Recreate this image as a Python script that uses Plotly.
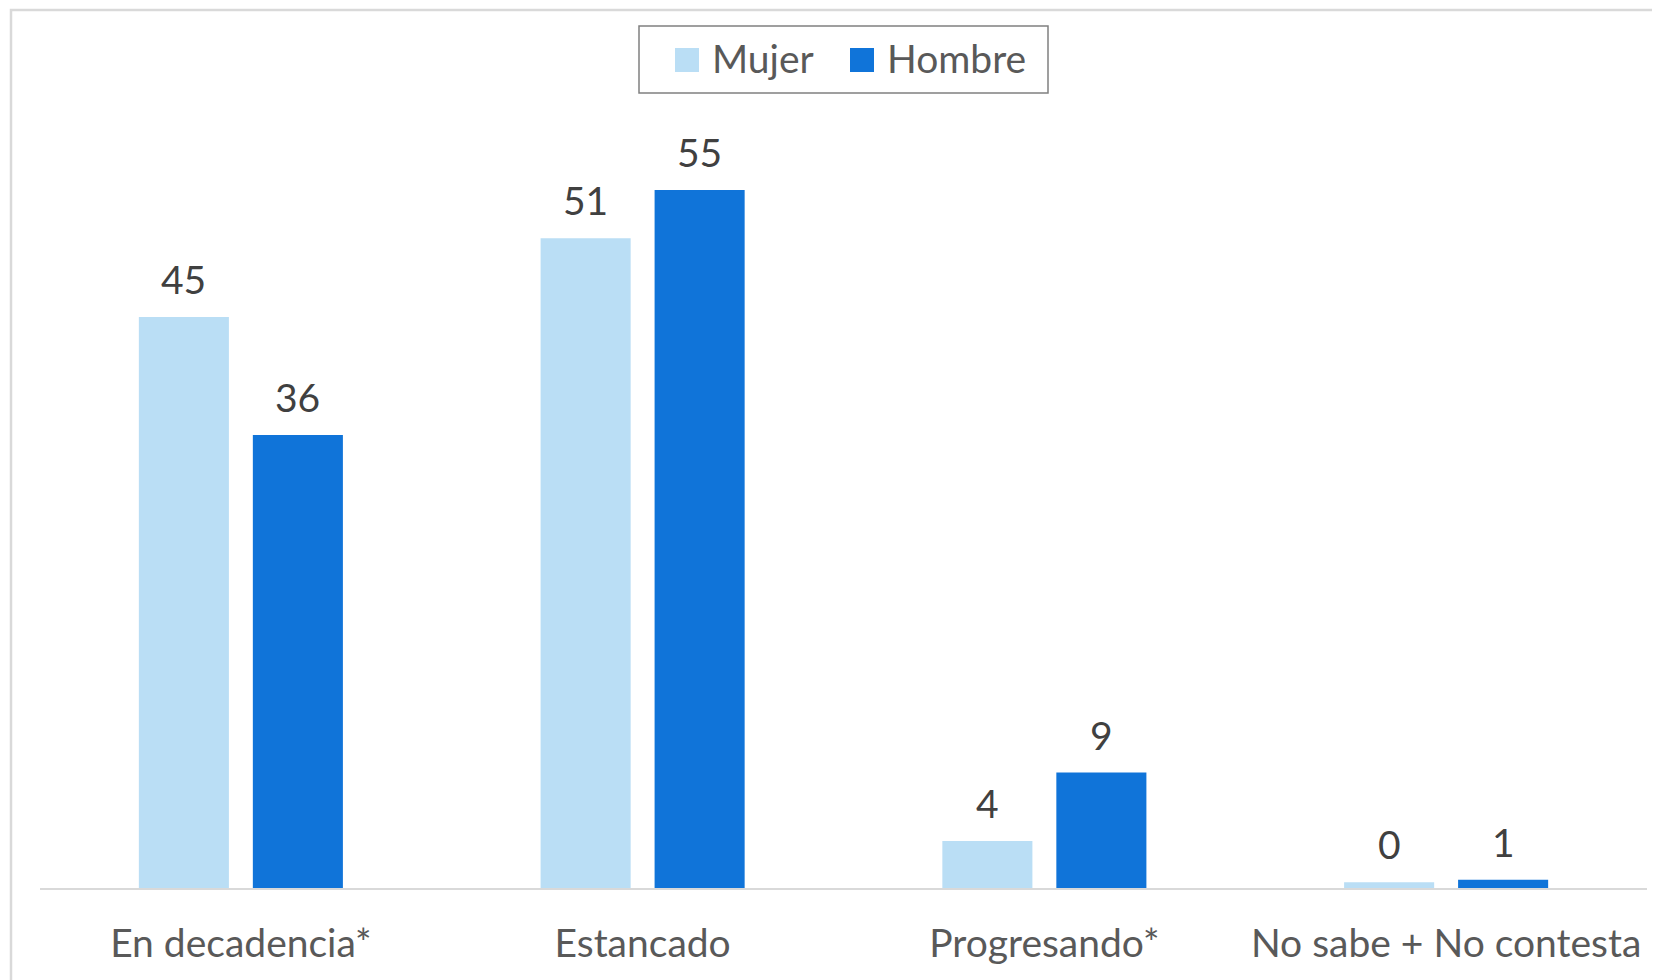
import plotly.graph_objects as go

categories = ["En decadencia*", "Estancado", "Progresando*", "No sabe + No contesta"]
mujer = [45, 51.2, 3.7, 0.45]
hombre = [35.7, 55, 9.1, 0.65]
series_names = ["Mujer", "Hombre"]
colors = ["#BADEF5", "#1074D9"]

W, H = 1660, 980
OFF = 8  # page body margin
# desired on-screen plot area: x 40..1647, y 110..888
L, T = 40 - OFF, 110 - OFF
R, B = W - (1647 - OFF), H - (888 - OFF)
PW, PH = W - L - R, H - T - B

def px(x):
    return (x - OFF - L) / PW

def py(y):
    return (H - B - (y - OFF)) / PH

FONT = "Lato"
FS = 39

fig = go.Figure()
for name, vals, col in zip(series_names, [mujer, hombre], colors):
    fig.add_trace(go.Bar(x=categories, y=vals, name=name, marker_color=col,
                         marker_line_width=0, showlegend=False))

# value labels
for vals, shift in [(mujer, -57), (hombre, 57)]:
    for c, v in zip(categories, vals):
        fig.add_annotation(x=c, y=v, text=f"{round(v):d}", showarrow=False,
                           xshift=shift, yshift=13, yanchor="bottom",
                           font=dict(family=FONT, size=FS, color="#404040"))

shapes = []
# outer border
shapes.append(dict(type="rect", xref="paper", yref="paper",
                   x0=px(11), x1=px(1700), y0=py(1020), y1=py(10),
                   line=dict(color="#D9D9D9", width=2.5), fillcolor="rgba(0,0,0,0)", layer="below"))
# legend box
shapes.append(dict(type="rect", xref="paper", yref="paper",
                   x0=px(639), x1=px(1048), y0=py(93), y1=py(26),
                   line=dict(color="#808080", width=1.5), fillcolor="white"))
# legend swatches
for (x0, col) in [(675, colors[0]), (850, colors[1])]:
    shapes.append(dict(type="rect", xref="paper", yref="paper",
                       x0=px(x0), x1=px(x0 + 24), y0=py(72), y1=py(48),
                       line=dict(width=0), fillcolor=col))
for x0, name in [(710, series_names[0]), (885, series_names[1])]:
    fig.add_annotation(xref="paper", yref="paper", x=px(x0), y=py(58), text=name,
                       showarrow=False, xanchor="left", yanchor="middle",
                       font=dict(family=FONT, size=FS, color="#595959"))

fig.update_layout(
    width=W, height=H,
    margin=dict(l=L, r=R, t=T, b=B),
    paper_bgcolor="white", plot_bgcolor="white",
    barmode="group", bargap=0.4325, bargroupgap=0.21,
    shapes=shapes,
    showlegend=False,
)
fig.update_xaxes(showline=True, linecolor="#D9D9D9", linewidth=2, ticks="",
                 showgrid=False, ticklabelstandoff=20,
                 tickfont=dict(family=FONT, size=FS, color="#595959"))
fig.update_yaxes(range=[0, PH / 12.69], visible=False, showgrid=False)

fig.write_html("out.html")
